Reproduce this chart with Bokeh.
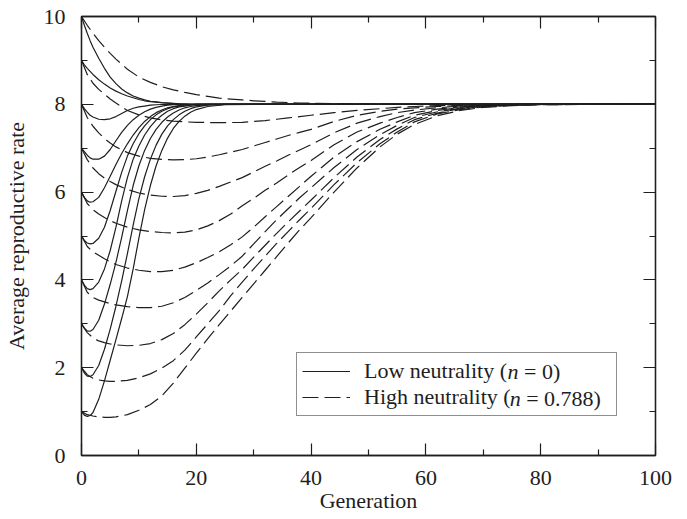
from bokeh.plotting import figure
from bokeh.models import Range1d, FixedTicker, LinearAxis, Legend, LegendItem, Label
from bokeh.embed import file_html
from bokeh.resources import INLINE

# ---------------- data ----------------
X_TICKS = [0, 20, 40, 60, 80, 100]
X_MINOR = [10, 30, 50, 70, 90]
Y_TICKS = [0, 2, 4, 6, 8, 10]
Y_MINOR = [1, 3, 5, 7, 9]

# generations sampled for the low-neutrality (solid) curves
SX = [0, 0.5, 1, 1.5, 2, 3, 4, 5, 6, 7, 8, 9, 10, 11, 12, 13, 14, 15, 16, 17, 18, 19, 20, 22, 25, 30, 100]
S1 = [1, 0.92, 0.89, 0.91, 0.98, 1.28, 1.7, 2.17, 2.64, 3.12, 3.62, 4.25, 4.95, 5.6, 6.15, 6.6, 6.95, 7.23, 7.45, 7.61, 7.73, 7.82, 7.88, 7.95, 7.99, 8.0, 8.0]
S2 = [2, 1.88, 1.81, 1.8, 1.84, 2.05, 2.42, 2.88, 3.4, 3.98, 4.6, 5.25, 5.85, 6.35, 6.75, 7.07, 7.32, 7.51, 7.65, 7.76, 7.84, 7.9, 7.94, 7.98, 8.0, 8.0, 8.0]
S3 = [3, 2.9, 2.84, 2.83, 2.87, 3.08, 3.45, 3.9, 4.4, 4.97, 5.58, 6.15, 6.6, 6.95, 7.22, 7.43, 7.59, 7.71, 7.8, 7.87, 7.92, 7.95, 7.97, 7.99, 8.0, 8.0, 8.0]
S4 = [4, 3.88, 3.8, 3.78, 3.8, 3.95, 4.25, 4.67, 5.2, 5.8, 6.33, 6.75, 7.05, 7.3, 7.49, 7.64, 7.75, 7.84, 7.9, 7.94, 7.96, 7.98, 7.99, 8.0, 8.0, 8.0, 8.0]
S5 = [5, 4.9, 4.84, 4.82, 4.83, 4.95, 5.2, 5.58, 6.02, 6.45, 6.82, 7.1, 7.33, 7.51, 7.65, 7.76, 7.84, 7.9, 7.94, 7.96, 7.98, 7.99, 8.0, 8.0, 8.0, 8.0, 8.0]
S6 = [6, 5.88, 5.8, 5.77, 5.78, 5.88, 6.1, 6.36, 6.63, 6.88, 7.1, 7.3, 7.47, 7.61, 7.72, 7.81, 7.87, 7.92, 7.95, 7.97, 7.985, 7.99, 8.0, 8.0, 8.0, 8.0, 8.0]
S7 = [7, 6.92, 6.84, 6.78, 6.75, 6.75, 6.82, 6.97, 7.17, 7.36, 7.52, 7.65, 7.75, 7.83, 7.89, 7.93, 7.96, 7.98, 7.99, 7.995, 8.0, 8.0, 8.0, 8.0, 8.0, 8.0, 8.0]
S8 = [8, 7.9, 7.82, 7.75, 7.71, 7.66, 7.65, 7.67, 7.72, 7.79, 7.86, 7.91, 7.94, 7.96, 7.98, 7.99, 7.995, 8, 8, 8, 8, 8, 8, 8, 8, 8, 8]
S9 = [9, 8.9, 8.82, 8.75, 8.68, 8.56, 8.46, 8.37, 8.3, 8.24, 8.19, 8.15, 8.11, 8.08, 8.06, 8.05, 8.035, 8.025, 8.015, 8.01, 8.005, 8.0, 8, 8, 8, 8, 8]
S10 = [10, 9.8, 9.62, 9.45, 9.3, 9.05, 8.82, 8.62, 8.47, 8.35, 8.26, 8.19, 8.14, 8.1, 8.07, 8.055, 8.04, 8.03, 8.02, 8.01, 8.005, 8.0, 8, 8, 8, 8, 8]

# generations sampled for the high-neutrality (dashed) curves
DX = [0, 1, 2, 3, 4, 5, 6, 8, 10, 12, 14, 16, 18, 20, 22, 24, 26, 28, 30, 32, 34, 36, 38, 40, 44, 48, 52, 55, 58, 62, 66, 70, 75, 80, 90, 100]
D1 = [1.0, 0.93, 0.9, 0.88, 0.87, 0.87, 0.88, 0.93, 1.03, 1.16, 1.36, 1.65, 1.99, 2.33, 2.66, 2.98, 3.29, 3.6, 3.91, 4.22, 4.53, 4.84, 5.14, 5.42, 6.0, 6.55, 7.03, 7.32, 7.54, 7.74, 7.86, 7.93, 7.97, 7.99, 8.0, 8.0]
D2 = [2.0, 1.84, 1.76, 1.72, 1.7, 1.69, 1.69, 1.71, 1.77, 1.86, 1.99, 2.16, 2.4, 2.7, 3.0, 3.3, 3.64, 3.95, 4.25, 4.54, 4.83, 5.1, 5.37, 5.63, 6.17, 6.67, 7.1, 7.37, 7.6, 7.78, 7.88, 7.94, 7.98, 7.99, 8.0, 8.0]
D3 = [3.0, 2.8, 2.68, 2.61, 2.57, 2.54, 2.52, 2.5, 2.51, 2.55, 2.64, 2.78, 2.98, 3.22, 3.48, 3.75, 4.0, 4.24, 4.52, 4.79, 5.06, 5.32, 5.57, 5.82, 6.33, 6.8, 7.2, 7.44, 7.65, 7.8, 7.9, 7.95, 7.98, 8.0, 8.0, 8.0]
D4 = [4.0, 3.72, 3.6, 3.54, 3.5, 3.46, 3.43, 3.39, 3.37, 3.37, 3.4, 3.48, 3.6, 3.76, 3.93, 4.12, 4.32, 4.54, 4.82, 5.1, 5.37, 5.62, 5.87, 6.1, 6.56, 6.97, 7.31, 7.52, 7.7, 7.83, 7.91, 7.96, 7.99, 8.0, 8.0, 8.0]
D5 = [5.0, 4.76, 4.64, 4.56, 4.48, 4.41, 4.35, 4.27, 4.22, 4.19, 4.19, 4.22, 4.29, 4.39, 4.51, 4.64, 4.8, 4.98, 5.2, 5.44, 5.67, 5.9, 6.13, 6.36, 6.8, 7.15, 7.43, 7.6, 7.75, 7.86, 7.93, 7.97, 7.99, 8.0, 8.0, 8.0]
D6 = [6.0, 5.74, 5.6, 5.5, 5.42, 5.35, 5.29, 5.2, 5.14, 5.1, 5.08, 5.07, 5.09, 5.14, 5.23, 5.35, 5.5, 5.69, 5.86, 6.04, 6.21, 6.39, 6.56, 6.72, 7.08, 7.37, 7.57, 7.7, 7.81, 7.89, 7.94, 7.97, 7.99, 8.0, 8.0, 8.0]
D7 = [7.0, 6.74, 6.55, 6.42, 6.32, 6.24, 6.17, 6.06, 5.98, 5.93, 5.905, 5.9, 5.92, 5.97, 6.04, 6.13, 6.23, 6.33, 6.46, 6.59, 6.71, 6.84, 6.96, 7.08, 7.35, 7.57, 7.72, 7.81, 7.87, 7.92, 7.96, 7.98, 7.99, 8.0, 8.0, 8.0]
D8 = [8.0, 7.7, 7.5, 7.35, 7.22, 7.12, 7.03, 6.9, 6.82, 6.77, 6.745, 6.735, 6.74, 6.76, 6.8, 6.85, 6.91, 6.97, 7.05, 7.13, 7.21, 7.29, 7.36, 7.43, 7.61, 7.75, 7.84, 7.89, 7.92, 7.95, 7.97, 7.985, 7.995, 8.0, 8.0, 8.0]
D9 = [9.0, 8.68, 8.48, 8.34, 8.23, 8.12, 8.03, 7.86, 7.76, 7.69, 7.645, 7.615, 7.6, 7.59, 7.585, 7.583, 7.585, 7.59, 7.61, 7.63, 7.66, 7.69, 7.72, 7.75, 7.81, 7.86, 7.9, 7.93, 7.95, 7.97, 7.98, 7.99, 8.0, 8.0, 8.0, 8.0]
D10 = [10, 9.8, 9.62, 9.45, 9.3, 9.16, 9.03, 8.8, 8.62, 8.5, 8.4, 8.33, 8.27, 8.22, 8.18, 8.14, 8.12, 8.1, 8.08, 8.065, 8.05, 8.04, 8.03, 8.025, 8.015, 8.008, 8.004, 8.002, 8.001, 8.0, 8.0, 8.0, 8.0, 8.0, 8.0, 8.0]

# legend texts: plain part, italic symbol, value part
LOW_LABEL = ["Low neutrality (", "n", "= 0)"]
HIGH_LABEL = ["High neutrality (", "n", "= 0.788)"]
X_LABEL = "Generation"
Y_LABEL = "Average reproductive rate"

# ---------------- styling ----------------
FONT = "Liberation Serif"
INK = "#1e1e1e"
FS = "22px"
PX = 22.0  # font size in pixels, used for the legend text pieces
FRAME_W, FRAME_H = 574.0, 439.0  # plot frame size in pixels

p = figure(width=679, height=517, output_backend="svg", toolbar_location=None,
           x_range=Range1d(0, 100), y_range=Range1d(0, 10),
           min_border_left=81, min_border_right=24, min_border_top=16, min_border_bottom=62)
p.background_fill_color = "white"
p.border_fill_color = "white"
p.outline_line_color = INK
p.outline_line_width = 1.3
p.xgrid.visible = False
p.ygrid.visible = False


def style_axis(ax, ticks, minor, show_labels):
    ax.ticker = FixedTicker(ticks=ticks, minor_ticks=minor)
    ax.axis_line_color = INK
    ax.axis_line_width = 1.3
    ax.major_tick_line_color = INK
    ax.major_tick_line_width = 1.2
    ax.minor_tick_line_color = INK
    ax.minor_tick_line_width = 1.2
    ax.major_tick_in = 12
    ax.major_tick_out = 0
    ax.minor_tick_in = 6
    ax.minor_tick_out = 0
    if show_labels:
        ax.major_label_text_font = FONT
        ax.major_label_text_font_size = FS
        ax.major_label_text_color = INK
        ax.axis_label_text_font = FONT
        ax.axis_label_text_font_size = FS
        ax.axis_label_text_font_style = "normal"
        ax.axis_label_text_color = INK
    else:
        ax.major_label_text_font_size = "1px"
        ax.major_label_text_alpha = 0
        ax.major_label_standoff = 0


xa = p.xaxis[0]
style_axis(xa, X_TICKS, X_MINOR, True)
xa.axis_label = X_LABEL
xa.major_label_standoff = 15
xa.axis_label_standoff = 0

ya = p.yaxis[0]
style_axis(ya, Y_TICKS, Y_MINOR, True)
ya.axis_label = Y_LABEL
ya.major_label_standoff = 16
ya.axis_label_standoff = 12

top = LinearAxis()
style_axis(top, X_TICKS, X_MINOR, False)
p.add_layout(top, "above")
right = LinearAxis()
style_axis(right, Y_TICKS, Y_MINOR, False)
p.add_layout(right, "right")

solid = [S1, S2, S3, S4, S5, S6, S7, S8, S9, S10]
dashed = [D1, D2, D3, D4, D5, D6, D7, D8, D9, D10]

solid_r = []
for ys in solid:
    solid_r.append(p.line(SX, ys, line_color=INK, line_width=1.2))
dashed_r = []
for ys in dashed:
    dashed_r.append(p.line(DX, ys, line_color=INK, line_width=1.2, line_dash="16 6"))

# legend box (screen position relative to the plot frame)
LEG_X, LEG_Y = 215, 39
PAD, GLYPH_W, STANDOFF = 5, 48, 14
legend = Legend(items=[LegendItem(label=LOW_LABEL[0], renderers=[solid_r[0]]),
                       LegendItem(label=HIGH_LABEL[0], renderers=[dashed_r[0]])],
                location=(LEG_X, LEG_Y), orientation="vertical")
legend.label_text_font = FONT
legend.label_text_font_size = FS
legend.label_text_color = INK
legend.border_line_color = INK
legend.border_line_width = 1.1
legend.background_fill_color = "white"
legend.background_fill_alpha = 0.0
legend.glyph_width = GLYPH_W
legend.glyph_height = 20
legend.label_height = 20
legend.label_width = 247
legend.label_standoff = STANDOFF
legend.padding = PAD
legend.spacing = 0
legend.margin = 0
p.add_layout(legend)

# italic "n" and the value part of each legend entry, appended after the plain text
# (pixel offsets inside the frame converted to the axis scales)
text_x = LEG_X + PAD + GLYPH_W + STANDOFF
row_y = [84.5, 57.5]
plain_w = [144.0, 146.2]   # rendered widths of the plain parts, in pixels
to_x = 100.0 / FRAME_W
to_y = 10.0 / FRAME_H
for (lab, ry, w) in zip([LOW_LABEL, HIGH_LABEL], row_y, plain_w):
    nx = text_x + w
    p.add_layout(Label(x=nx * to_x, y=ry * to_y, text=lab[1],
                       text_font=FONT, text_font_size=FS, text_font_style="italic",
                       text_color=INK, text_baseline="middle", text_align="left"))
    p.add_layout(Label(x=(nx + 0.75 * PX) * to_x, y=ry * to_y,
                       text=lab[2], text_font=FONT, text_font_size=FS,
                       text_color=INK, text_baseline="middle", text_align="left"))

open("out.html", "w").write(file_html(p, INLINE))
